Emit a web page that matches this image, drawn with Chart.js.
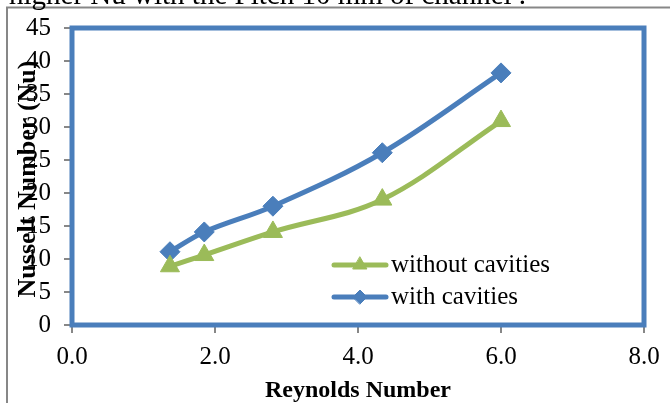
<!DOCTYPE html>
<html>
<head>
<meta charset="utf-8">
<script src="https://cdn.jsdelivr.net/npm/chart.js@4"></script>
<style>
html, body { margin: 0; padding: 0; background: #fff; overflow: hidden; }
#wrap { position: relative; width: 670px; height: 403px; overflow: hidden; }
#chart { position: absolute; left: 0; top: 0; }
#cut { position: absolute; left: 9px; top: -22px; font: 29px "Liberation Serif", serif; line-height: 32px; white-space: nowrap; color: #000; }
</style>
</head>
<body>
<div id="wrap">
  <canvas id="chart" width="670" height="403"></canvas>
  <div id="cut">higher Nu with the Pitch 10 mm of channel .</div>
</div>
<script>
// data
const reynolds = [1.37, 1.85, 2.81, 4.34, 6.0]
const withoutCavities = [8.9, 10.6, 14.1, 19.0, 30.9]
const withCavities = [11.1, 14.1, 18.0, 26.1, 38.2]
const seriesNames = ['without cavities', 'with cavities']

const green = '#9BBB59'
const blue = '#4A7EBB'
const axisGrey = '#878787'
const serif = '"Liberation Serif", "Times New Roman", serif'

const toPoints = (xs, ys) => xs.map((x, i) => ({ x: x, y: ys[i] }))

// gray outer frame + blue plot-area border
const framePlugin = {
    id: 'frame',
    beforeDraw(chart) {
        const ctx = chart.ctx
        ctx.save()
        ctx.strokeStyle = axisGrey
        ctx.lineWidth = 2
        ctx.beginPath()
        ctx.moveTo(7, 410)
        ctx.lineTo(7, 7.5)
        ctx.lineTo(680, 7.5)
        ctx.stroke()
        ctx.restore()
    },
    beforeDatasetsDraw(chart) {
        const a = chart.chartArea
        const ctx = chart.ctx
        ctx.save()
        ctx.strokeStyle = blue
        ctx.lineWidth = 5
        ctx.strokeRect(a.left, a.top, a.right - a.left, a.bottom - a.top)
        ctx.restore()
    }
}

// y title sits over the tick labels like in the original
const yTitlePlugin = {
    id: 'yTitle',
    afterDraw(chart) {
        const ctx = chart.ctx
        ctx.save()
        ctx.translate(28, 179)
        ctx.rotate(-Math.PI / 2)
        ctx.font = 'bold 26px ' + serif
        ctx.fillStyle = '#000'
        ctx.textAlign = 'center'
        ctx.textBaseline = 'middle'
        ctx.fillText('Nusselt Number (Nu)', 0, 0)
        ctx.restore()
    }
}

// legend inside the plot, lower right
const legendPlugin = {
    id: 'innerLegend',
    afterDraw(chart) {
        const ctx = chart.ctx
        const rows = [265, 297]
        ctx.save()
        chart.data.datasets.forEach((ds, i) => {
            const y = rows[i]
            ctx.strokeStyle = ds.borderColor
            ctx.lineWidth = 5
            ctx.lineCap = 'round'
            ctx.beginPath()
            ctx.moveTo(334, y)
            ctx.lineTo(386, y)
            ctx.stroke()
            ctx.fillStyle = ds.backgroundColor
            ctx.strokeStyle = ds.borderColor
            ctx.lineWidth = 1
            Chart.helpers.drawPoint(ctx, { pointStyle: ds.pointStyle, radius: ds.pointStyle === 'triangle' ? 8 : 7, borderWidth: 1 }, 360, y)
            ctx.fillStyle = '#000'
            ctx.font = '25px ' + serif
            ctx.textAlign = 'left'
            ctx.textBaseline = 'middle'
            ctx.fillText(ds.label, 391, y)
        })
        ctx.restore()
    }
}

new Chart(document.getElementById('chart'), {
    type: 'line',
    data: {
        datasets: [
            {
                label: seriesNames[0],
                data: toPoints(reynolds, withoutCavities),
                borderColor: green,
                backgroundColor: green,
                borderWidth: 5,
                pointStyle: 'triangle',
                pointRadius: 11,
                pointBorderWidth: 1,
                tension: 0.35
            },
            {
                label: seriesNames[1],
                data: toPoints(reynolds, withCavities),
                borderColor: blue,
                backgroundColor: blue,
                borderWidth: 5,
                pointStyle: 'rectRot',
                pointRadius: 10,
                pointBorderWidth: 1,
                tension: 0.35
            }
        ]
    },
    options: {
        responsive: false,
        animation: false,
        layout: { padding: { left: 0, right: 26, top: 27, bottom: 0 } },
        plugins: {
            legend: { display: false },
            tooltip: { enabled: false }
        },
        scales: {
            x: {
                type: 'linear',
                min: 0,
                max: 8,
                afterFit: s => { s.height = 78 },
                ticks: {
                    stepSize: 2,
                    callback: v => v.toFixed(1),
                    color: '#000',
                    font: { family: serif, size: 25 },
                    padding: 9
                },
                grid: { drawOnChartArea: false, drawTicks: true, tickLength: 8, color: axisGrey, lineWidth: 2 },
                border: { color: axisGrey, width: 2 },
                title: {
                    display: true,
                    text: 'Reynolds Number',
                    color: '#000',
                    font: { family: serif, size: 24, weight: 'bold' },
                    padding: { top: 0, bottom: -2 }
                }
            },
            y: {
                min: 0,
                max: 45,
                afterFit: s => { s.width = 72 },
                ticks: {
                    stepSize: 5,
                    color: '#000',
                    font: { family: serif, size: 25 },
                    padding: 13
                },
                grid: { drawOnChartArea: false, drawTicks: true, tickLength: 8, color: axisGrey, lineWidth: 2 },
                border: { color: axisGrey, width: 2 }
            }
        }
    },
    plugins: [framePlugin, yTitlePlugin, legendPlugin]
})
</script>
</body>
</html>
